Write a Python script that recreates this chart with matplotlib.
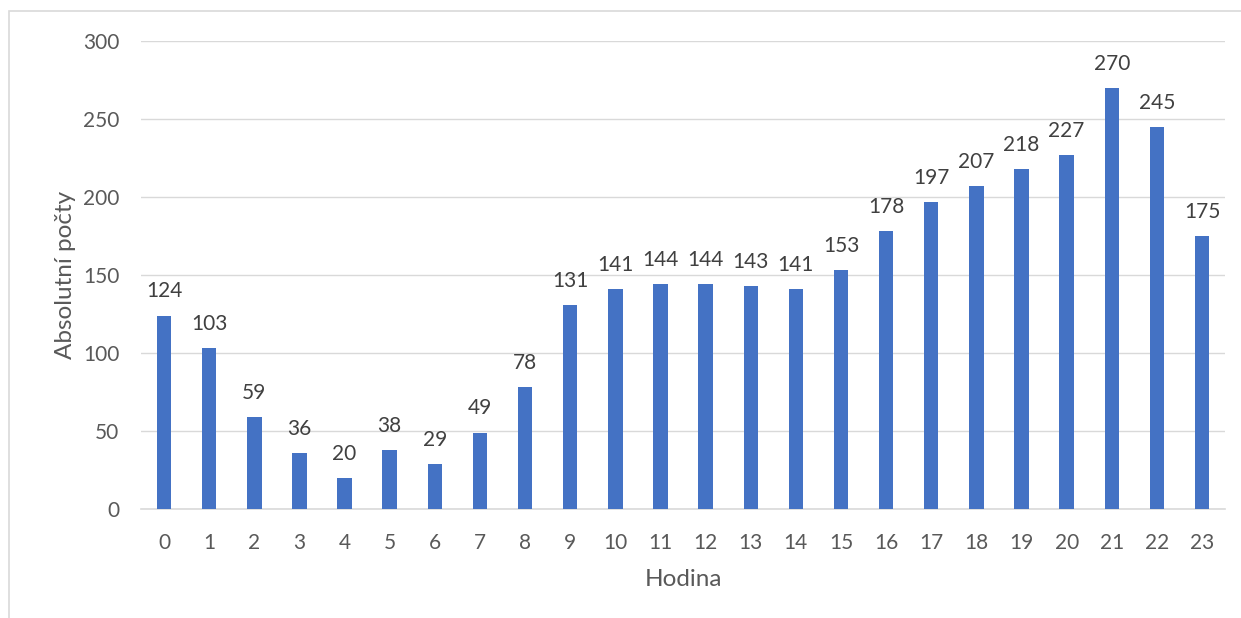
import matplotlib
matplotlib.use("Agg")
import matplotlib.pyplot as plt
from matplotlib.patches import Rectangle

hodiny = list(range(24))
pocty = [124, 103, 59, 36, 20, 38, 29, 49, 78, 131, 141, 144, 144, 143, 141,
         153, 178, 197, 207, 218, 227, 270, 245, 175]

plt.rcParams['font.family'] = ['Lato', 'DejaVu Sans']

fig = plt.figure(figsize=(12.41, 6.18), dpi=100)
ax = fig.add_axes([0.114, 0.1764, 0.8728, 0.7573])

bars = ax.bar(hodiny, pocty, width=0.32, color='#4472C4', zorder=3)
for b, v in zip(bars, pocty):
    ax.annotate(str(v), (b.get_x() + b.get_width() / 2, v), xytext=(0, 13),
                textcoords='offset points', ha='center', va='baseline',
                fontsize=15, color='#404040')

ax.set_xlim(-0.5, 23.5)
ax.set_ylim(0, 300)
ax.set_yticks(range(0, 301, 50))
ax.set_xticks(hodiny)
ax.grid(axis='y', color='#D9D9D9', linewidth=1, zorder=0)
for s in ['top', 'right', 'left']:
    ax.spines[s].set_visible(False)
ax.spines['bottom'].set_color('#D9D9D9')
ax.spines['bottom'].set_linewidth(1.2)
ax.tick_params(length=0, labelsize=15, labelcolor='#595959')
ax.tick_params(axis='y', pad=16)
ax.tick_params(axis='x', pad=17)
ax.set_xlabel('Hodina', fontsize=17.5, color='#595959', labelpad=12)
ax.set_ylabel('Absolutní počty', fontsize=17.5, color='#595959', labelpad=5)

# chart frame
fig.patches.append(Rectangle((9 / 1241, -0.1), 1.2, 1 - 11 / 618 + 0.1,
                             transform=fig.transFigure, fill=False,
                             edgecolor='#D9D9D9', linewidth=1.2))

fig.savefig('out.png', dpi=100)
